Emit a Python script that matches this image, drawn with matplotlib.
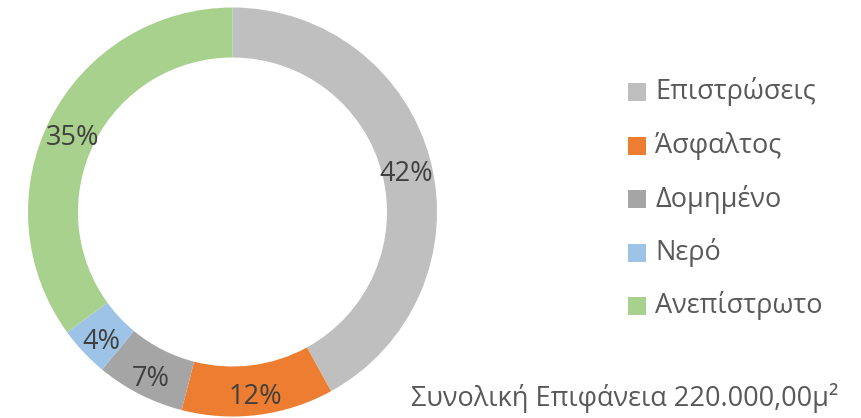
import matplotlib
matplotlib.use("Agg")
import matplotlib.pyplot as plt
from matplotlib.patches import Rectangle

plt.rcParams['font.family'] = ['Open Sans', 'DejaVu Sans']

categories = ["Επιστρώσεις", "Άσφαλτος", "Δομημένο", "Νερό", "Ανεπίστρωτο"]
shares = [42, 12, 7, 4, 35]
colors = ["#BFBFBF", "#ED7D31", "#A5A5A5", "#9DC3E6", "#A9D18E"]
total_note = "Συνολική Επιφάνεια 220.000,00μ²"

W, H = 861, 418
fig = plt.figure(figsize=(W / 100, H / 100), dpi=100)
ax = fig.add_axes([0, 0, 1, 1])
ax.set_xlim(0, W)
ax.set_ylim(0, H)
ax.set_aspect('equal')
ax.axis('off')

cx, cy, r = 232.5, H - 212, 204.5
ring = 50 / r

wedges, texts, autotexts = ax.pie(
    shares, colors=colors, startangle=90, counterclock=False,
    center=(cx, cy), radius=r, autopct='%1.0f%%', pctdistance=1 - ring / 2,
    wedgeprops=dict(width=r * ring, linewidth=0),
    textprops=dict(fontsize=19.5, color="#404040"))
# centre the digits optically on the ring
for t in autotexts:
    x, y = t.get_position()
    t.set_position((x, y - 7))
ax.set_xlim(0, W)
ax.set_ylim(0, H)

# legend: square swatch + label per category
row0, step = H - 92, 53.5
for i, (lab, col) in enumerate(zip(categories, colors)):
    y = row0 - i * step
    ax.add_patch(Rectangle((628, y - 9), 18, 18, facecolor=col, edgecolor='none'))
    ax.text(655, y, lab, fontsize=19.5, color="#595959", va='center', ha='left')

ax.text(838, H - 398, total_note, fontsize=19.5, color="#595959",
        ha='right', va='center')

fig.savefig("out.png", dpi=100)
